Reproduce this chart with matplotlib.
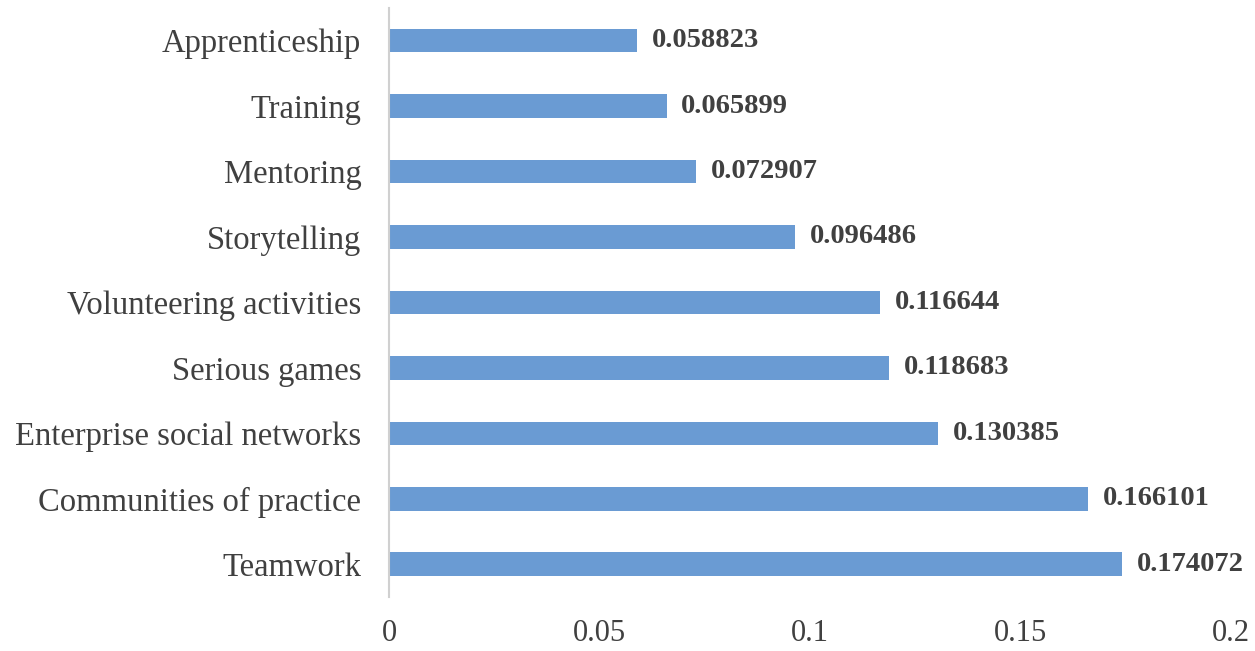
import matplotlib
matplotlib.use('Agg')
import matplotlib.pyplot as plt

plt.rcParams['font.family'] = ['Liberation Serif', 'DejaVu Serif']

categories = ['Teamwork', 'Communities of practice', 'Enterprise social networks',
              'Serious games', 'Volunteering activities', 'Storytelling',
              'Mentoring', 'Training', 'Apprenticeship']
values = [0.174072, 0.166101, 0.130385, 0.118683, 0.116644, 0.096486,
          0.072907, 0.065899, 0.058823]
xticks = [0, 0.05, 0.1, 0.15, 0.2]
xtick_labels = ['0', '0.05', '0.1', '0.15', '0.2']

fig = plt.figure(figsize=(12.55, 6.51), dpi=100)
ax = fig.add_axes([0.31, 0.083, 0.671, 0.905])

bars = ax.barh(range(len(categories)), values, height=0.36, color='#6a9bd3')

for i, v in enumerate(values):
    ax.text(v + 0.0035, i, '%.6f' % v, va='center', ha='left',
            fontsize=20.5, fontweight='bold', color='#404040')

ax.set_xlim(0, 0.2)
ax.set_ylim(-0.5, len(categories) - 0.5)
ax.set_yticks(range(len(categories)))
ax.set_yticklabels(categories, fontsize=23.5, color='#404040')
ax.set_xticks(xticks)
ax.set_xticklabels(xtick_labels, fontsize=22, color='#404040')
ax.tick_params(length=0)
ax.tick_params(axis='x', pad=16)
ax.tick_params(axis='y', pad=20)

for s in ['top', 'right', 'bottom']:
    ax.spines[s].set_visible(False)
ax.spines['left'].set_color('#d0d0d0')
ax.spines['left'].set_linewidth(1.5)

fig.savefig('out.png', dpi=100)
